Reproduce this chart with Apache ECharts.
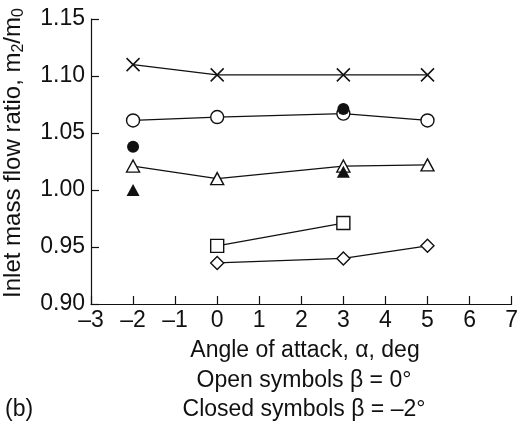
<!DOCTYPE html>
<html>
<head>
<meta charset="utf-8">
<script src="https://cdn.jsdelivr.net/npm/echarts@6/dist/echarts.min.js"></script>
<style>
  html, body { margin: 0; padding: 0; background: #fff; }
  #chart { width: 521px; height: 430px; }
</style>
</head>
<body>
<div id="chart"></div>
<script>
// Angle of attack (deg) for each measured series
const alphaCross = [-2, 0, 3, 5];
const ratioCross = [1.110, 1.101, 1.101, 1.101];

const alphaCircle = [-2, 0, 3, 5];
const ratioCircle = [1.061, 1.064, 1.067, 1.061];

const alphaTriangle = [-2, 0, 3, 5];
const ratioTriangle = [1.021, 1.010, 1.021, 1.022];

const alphaSquare = [0, 3];
const ratioSquare = [0.951, 0.971];

const alphaDiamond = [0, 3, 5];
const ratioDiamond = [0.936, 0.940, 0.951];

// Closed symbols, beta = -2 deg
const alphaClosedCircle = [-2, 3];
const ratioClosedCircle = [1.038, 1.071];

const alphaClosedTriangle = [-2, 3];
const ratioClosedTriangle = [1.000, 1.016];

const xTicks = { min: -3, max: 7, step: 1 };
const yTicks = { min: 0.90, max: 1.15, step: 0.05 };

const FONT = '"Liberation Sans", Arial, Helvetica, sans-serif';
const INK = '#111';
const FS = 23;

function pairs(xs, ys) { return xs.map((x, i) => [x, ys[i]]); }

const crossPath = 'path://M0,0L10,10M10,0L0,10';

function openLine(xs, ys, symbol, size) {
  return {
    type: 'line',
    data: pairs(xs, ys),
    symbol: symbol,
    symbolSize: size,
    showAllSymbol: true,
    lineStyle: { color: INK, width: 1.3 },
    itemStyle: { color: '#fff', borderColor: INK, borderWidth: 1.4 },
    z: 3
  };
}

function closedPoints(xs, ys, symbol, size) {
  return {
    type: 'scatter',
    data: pairs(xs, ys),
    symbol: symbol,
    symbolSize: size,
    itemStyle: { color: INK, borderColor: INK, borderWidth: 0, opacity: 1 },
    z: 5
  };
}

const chart = echarts.init(document.getElementById('chart'), null, { renderer: 'canvas' });

const crossSeries = openLine(alphaCross, ratioCross, crossPath, 13);
crossSeries.itemStyle = { color: 'none', borderColor: INK, borderWidth: 1.5 };

const textStyle = (t, x, y, align) => ({
  type: 'text', x: x, y: y,
  style: { text: t, font: FS + 'px ' + FONT, fill: INK, align: align || 'center', verticalAlign: 'middle' }
});

chart.setOption({
  animation: false,
  backgroundColor: '#fff',
  grid: { left: 91, right: 7, top: 19, bottom: 126, containLabel: false },
  xAxis: {
    type: 'value',
    min: xTicks.min, max: xTicks.max, interval: xTicks.step,
    axisLine: { onZero: false, lineStyle: { color: INK, width: 1.2 } },
    axisTick: { inside: true, length: 8, lineStyle: { color: INK, width: 1.2 } },
    splitLine: { show: false },
    axisLabel: {
      color: INK, fontFamily: FONT, fontSize: FS, margin: 5,
      formatter: v => (v < 0 ? '\u2013' + (-v) : String(v))
    }
  },
  yAxis: {
    type: 'value',
    min: yTicks.min, max: yTicks.max, interval: yTicks.step,
    axisLine: { onZero: false, lineStyle: { color: INK, width: 1.2 } },
    axisTick: { inside: true, length: 8, lineStyle: { color: INK, width: 1.2 } },
    splitLine: { show: false },
    axisLabel: {
      color: INK, fontFamily: FONT, fontSize: FS, margin: 6,
      formatter: v => v.toFixed(2)
    }
  },
  graphic: [
    {
      type: 'text', x: 13, y: 153, rotation: Math.PI / 2,
      style: {
        text: 'Inlet mass flow ratio, m{s|2}/m{s|0}',
        font: '24px ' + FONT, fill: INK, align: 'center', verticalAlign: 'middle',
        rich: { s: { fontSize: 16, fontFamily: FONT, fill: INK, padding: [11, 0, 0, 0] } }
      }
    },
    textStyle('Angle of attack, \u03b1, deg', 305, 351),
    textStyle('Open symbols \u03b2 = 0\u00b0', 304, 381),
    textStyle('Closed symbols \u03b2 = \u20132\u00b0', 304, 410),
    textStyle('(b)', 5, 410, 'left')
  ],
  series: [
    crossSeries,
    openLine(alphaCircle, ratioCircle, 'circle', 13),
    openLine(alphaTriangle, ratioTriangle, 'triangle', [13, 12]),
    openLine(alphaSquare, ratioSquare, 'rect', 13),
    openLine(alphaDiamond, ratioDiamond, 'diamond', [13, 13]),
    closedPoints(alphaClosedCircle, ratioClosedCircle, 'circle', 12),
    closedPoints(alphaClosedTriangle, ratioClosedTriangle, 'triangle', [13, 12])
  ]
});
</script>
</body>
</html>
